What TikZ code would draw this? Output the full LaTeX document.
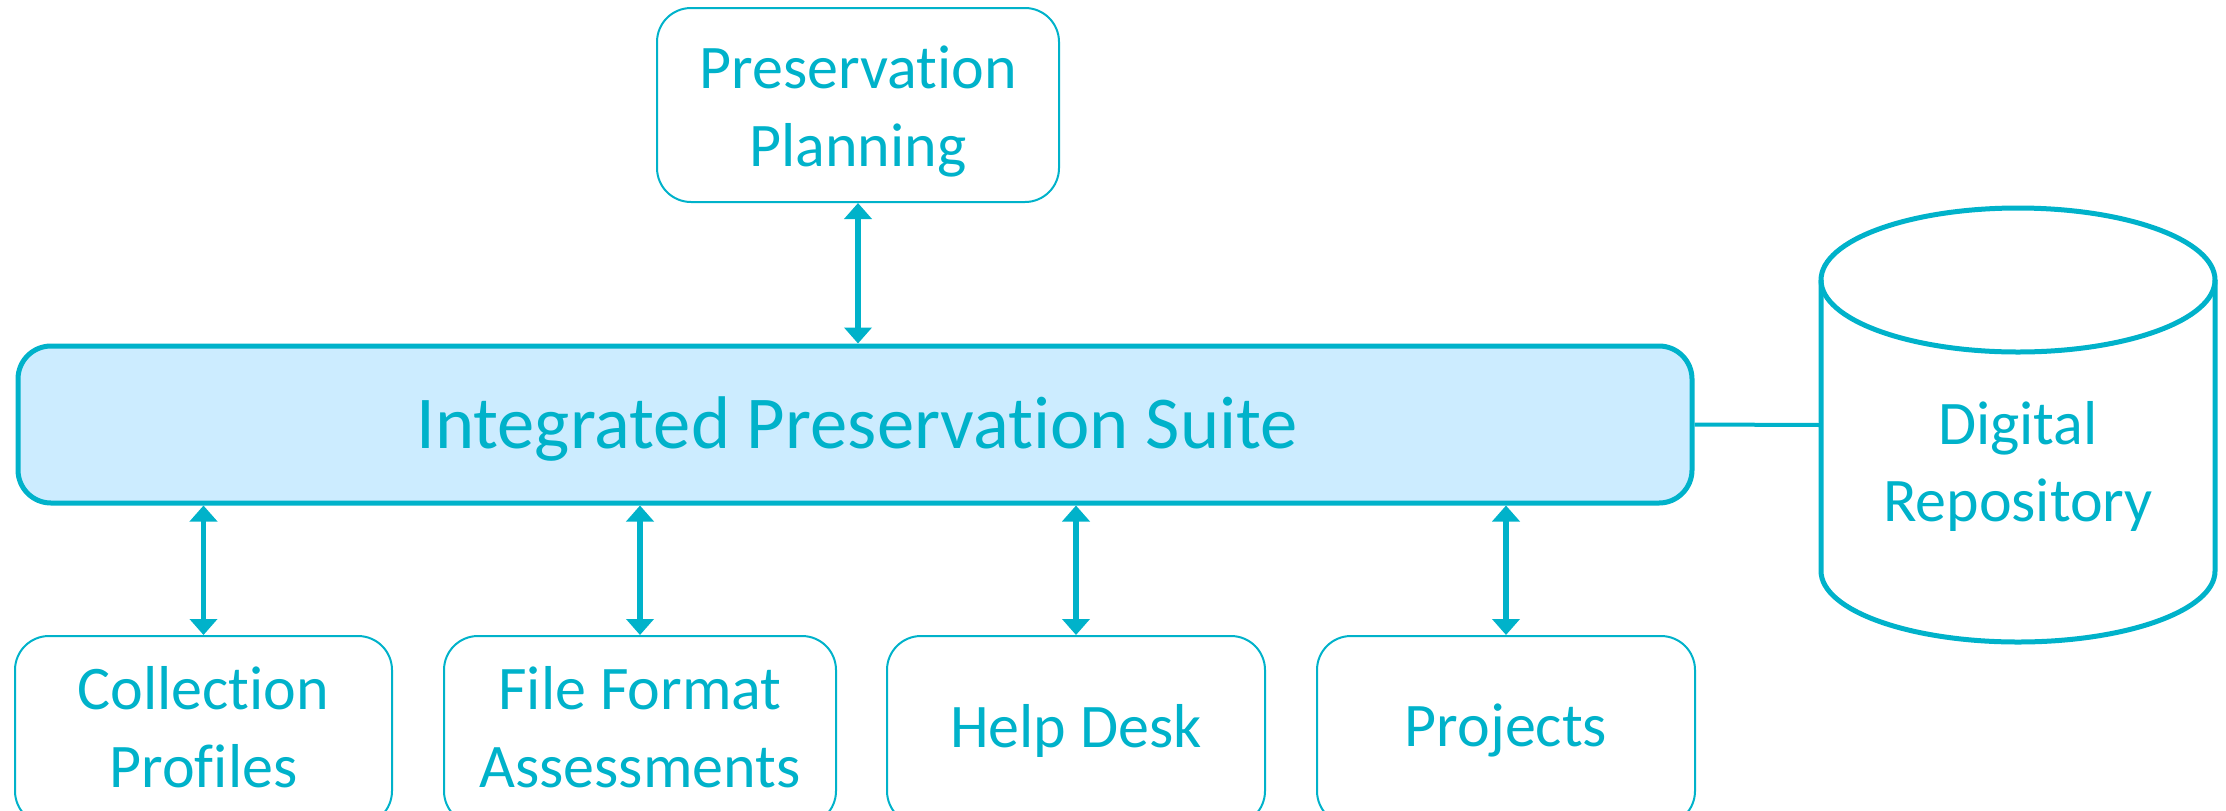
\documentclass[tikz,border=0pt]{standalone}
\usepackage{fontspec}
\setmainfont{Carlito}[Ligatures={NoCommon}]
\usetikzlibrary{arrows.meta}
\definecolor{teal}{RGB}{0,178,202}
\definecolor{lightfill}{RGB}{204,236,255}
\begin{document}
\begin{tikzpicture}[x=0.5pt,y=0.5pt,
  box/.style={draw=teal, line width=1pt, rounded corners=17pt, inner sep=0pt},
  boxtext/.style={text=teal, align=center, font=\fontsize{31pt}{39pt}\selectfont, inner sep=0pt},
  mainbox/.style={draw=teal, fill=lightfill, line width=2.5pt, rounded corners=16.5pt, inner sep=0pt},
  maintext/.style={text=teal, font=\fontsize{37.3pt}{45pt}\selectfont, inner sep=0pt},
  link/.style={draw=teal, line width=2.7pt, {Triangle[width=13.5pt,length=8pt]}-{Triangle[width=13.5pt,length=8pt]}},
  plain/.style={draw=teal, line width=2pt},
  cyl/.style={draw=teal, line width=2.5pt}
]
\useasboundingbox (0,0) rectangle (2226,-810);
\node[box, minimum width=201pt, minimum height=97pt] (plan) at (858,-105) {};
\node[boxtext] (plantext) at (858,-111) {Preservation\\Planning};
\node[mainbox, minimum width=837pt, minimum height=78.5pt] (suite) at (855,-424.5) {};
\node[maintext] (suitetext) at (857,-429) {Integrated Preservation Suite};
\node[box, minimum width=188.5pt, minimum height=94.5pt] (coll) at (203.5,-730.5) {};
\node[box, minimum width=196pt, minimum height=94.5pt] (ffa) at (640,-730.5) {};
\node[box, minimum width=189pt, minimum height=94.5pt] (help) at (1076,-730.5) {};
\node[box, minimum width=189pt, minimum height=94.5pt] (proj) at (1506,-730.5) {};
\node[boxtext] (colltext) at (203.5,-727) {Collection\\Profiles};
\node[boxtext] (ffatext) at (640,-727) {File Format\\Assessments};
\node[boxtext] (helptext) at (1076,-730.5) {Help Desk};
\node[boxtext] (projtext) at (1506,-730.5) {Projects};
% cylinder
\draw[cyl] (1821,-280) -- (1821,-571)
  arc[start angle=180, end angle=360, x radius=197, y radius=71] -- (2215,-280);
\draw[cyl] (2018,-280) ellipse[x radius=197, y radius=72];
\coordinate (repo) at (1821,-425);
\node[boxtext, font=\fontsize{31pt}{38.5pt}\selectfont] (repotext) at (2018,-466) {Digital\\Repository};
% connectors
\draw[link] (plan.south) -- (plan.south |- suite.north);
\draw[link] (coll.north) -- (coll.north |- suite.south);
\draw[link] (ffa.north) -- (ffa.north |- suite.south);
\draw[link] (help.north) -- (help.north |- suite.south);
\draw[link] (proj.north) -- (proj.north |- suite.south);
\draw[plain] (suite.east) -- (repo);
\end{tikzpicture}
\end{document}
